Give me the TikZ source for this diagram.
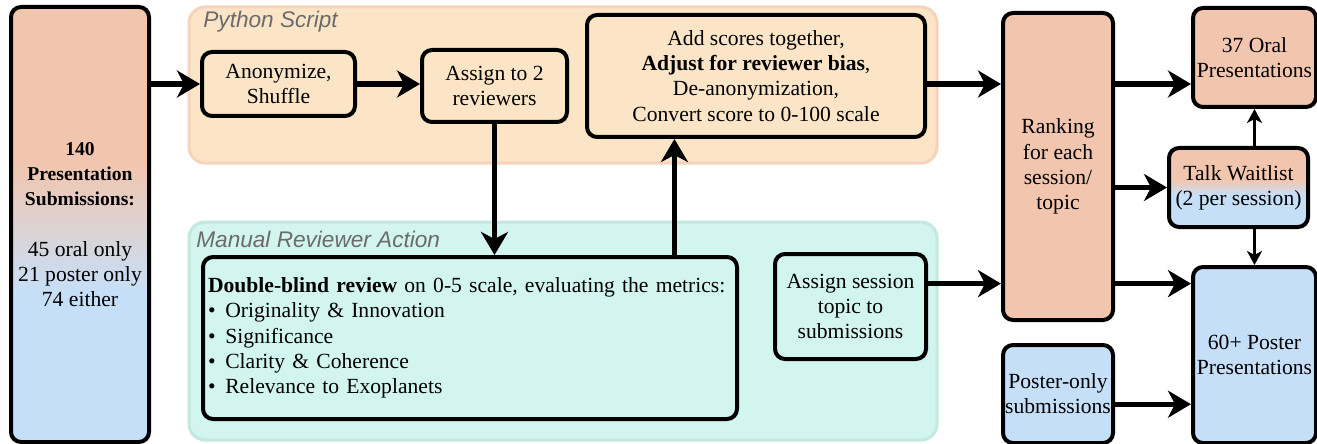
\documentclass[tikz,border=0pt]{standalone}
\usepackage{fontspec}
\setmainfont{Liberation Serif}
\newfontfamily\regionfont{Liberation Sans}
\usepackage{tikz}
\usetikzlibrary{arrows.meta}
\usetikzlibrary{calc}

\definecolor{peach}{HTML}{FBE5C6}
\definecolor{peachline}{HTML}{F6D3BB}
\definecolor{mint}{HTML}{D2F5EF}
\definecolor{mintline}{HTML}{C2E8E0}
\definecolor{salmon}{HTML}{F2C6AE}
\definecolor{sky}{HTML}{C6DFF9}
\definecolor{labelgray}{HTML}{6B6B6B}

\newcommand{\subhead}[1]{{\fontsize{9.8}{12.6}\selectfont\bfseries #1}}

\pgfdeclareverticalshading{subshade}{100bp}{color(0bp)=(sky); color(42bp)=(sky);
    color(57bp)=(salmon); color(100bp)=(salmon)}
\pgfdeclareverticalshading{waitshade}{100bp}{color(0bp)=(sky); color(45bp)=(sky);
    color(55bp)=(salmon); color(100bp)=(salmon)}

\begin{document}
\begin{tikzpicture}[
        x=0.5pt, y=-0.5pt,
        >={Stealth[length=11.5pt,width=13.5pt,inset=3.5pt]},
        every node/.style={font=\fontsize{10.8}{12.6}\selectfont},
        box/.style={draw, line width=2pt, rounded corners=5pt, align=center, inner sep=2pt},
        region/.style={draw=#1, line width=1.5pt, rounded corners=8pt},
        flow/.style={->, line width=2.6pt},
        minor/.style={-{Stealth[length=7pt,width=7.5pt,inset=2pt]}, line width=1.6pt},
        tag/.style={font=\regionfont\itshape\fontsize{11.3}{13}\selectfont,
                    text=labelgray, anchor=west, inner sep=0pt},
    ]
    \useasboundingbox (0,0) rectangle (1317,444);

    \draw[region=peachline, fill=peach] (189,7) rectangle (937,163);
    \draw[region=mintline, fill=mint] (189,222) rectangle (937,440);
    \node[tag] (pylabel) at (203,22) {Python Script};
    \node[tag] (manlabel) at (196,239) {Manual Reviewer Action};

    \node[box, shading=subshade, minimum width=69pt, minimum height=217.5pt] (sub) at (80,224.5)
        {\subhead{140}\\\subhead{Presentation}\\\subhead{Submissions:}\\[12.6pt]45 oral only\\21 poster only\\74 either};
    \node[box, fill=peach, minimum width=76.5pt, minimum height=32pt] (anon) at (278.5,84)
        {Anonymize,\\Shuffle};
    \node[box, fill=peach, minimum width=72.5pt, minimum height=36pt] (assign) at (494.5,86)
        {Assign to 2\\reviewers};
    \node[box, fill=peach, minimum width=169pt, minimum height=61pt] (add) at (756,76)
        {Add scores together,\\\textbf{Adjust for reviewer bias},\\De-anonymization,\\Convert score to 0-100 scale};
    \node[box, fill=mint, text width=262pt, align=left, inner sep=2.5pt, minimum height=81pt] (blind) at (470,338)
        {\textbf{Double-blind review} on 0-5 scale, evaluating the metrics:\\
         \textbullet\hspace{0.45em}Originality \& Innovation\\
         \textbullet\hspace{0.45em}Significance\\
         \textbullet\hspace{0.45em}Clarity \& Coherence\\
         \textbullet\hspace{0.45em}Relevance to Exoplanets};
    \node[box, fill=mint, minimum width=75.5pt, minimum height=52.5pt] (sess) at (850.5,306.5)
        {Assign session\\topic to\\submissions};
    \node[box, fill=salmon, minimum width=55pt, minimum height=153.5pt] (rank) at (1058,166.5)
        {Ranking\\for each\\session/\\topic};
    \node[box, fill=salmon, minimum width=61.5pt, minimum height=49.5pt, inner sep=1pt] (oral) at (1254.5,57.5)
        {37 Oral\\Presentations};
    \node[box, shading=waitshade, minimum width=69.5pt, minimum height=39.5pt, inner sep=1pt] (wait) at (1238.5,187.5)
        {Talk Waitlist\\(2 per session)};
    \node[box, fill=sky, minimum width=61.5pt, minimum height=88pt, inner sep=1pt] (poster) at (1254.5,355)
        {60+ Poster\\Presentations};
    \node[box, fill=sky, minimum width=55pt, minimum height=49pt, inner sep=1pt] (ponly) at (1058,394)
        {Poster-only\\submissions};

    \foreach \a/\b in {sub/anon, anon/assign, add/rank, rank/oral}
        \draw[flow] (\a.east |- anon) -- (\b.west |- anon);

    \draw[flow] (assign.south) -- (assign.south |- blind.north);
    \coordinate (upfoot) at ($(blind.north west)!0.88!(blind.north east)$);
    \draw[flow] (upfoot) -- (upfoot |- add.south);

    \coordinate (lowrow) at ($(sess.north east)!0.29!(sess.south east)$);
    \draw[flow] (lowrow) -- (lowrow -| rank.west);
    \draw[flow] (rank.east |- lowrow) -- (poster.west |- lowrow);
    \draw[flow] (rank.east |- wait) -- (wait.west);
    \coordinate (ponlyrow) at ($(ponly.north east)!0.6!(ponly.south east)$);
    \draw[flow] (ponlyrow) -- (ponlyrow -| poster.west);

    \draw[minor] (wait.north -| oral) -- (oral.south);
    \draw[minor] (wait.south -| poster) -- (poster.north);
\end{tikzpicture}
\end{document}
